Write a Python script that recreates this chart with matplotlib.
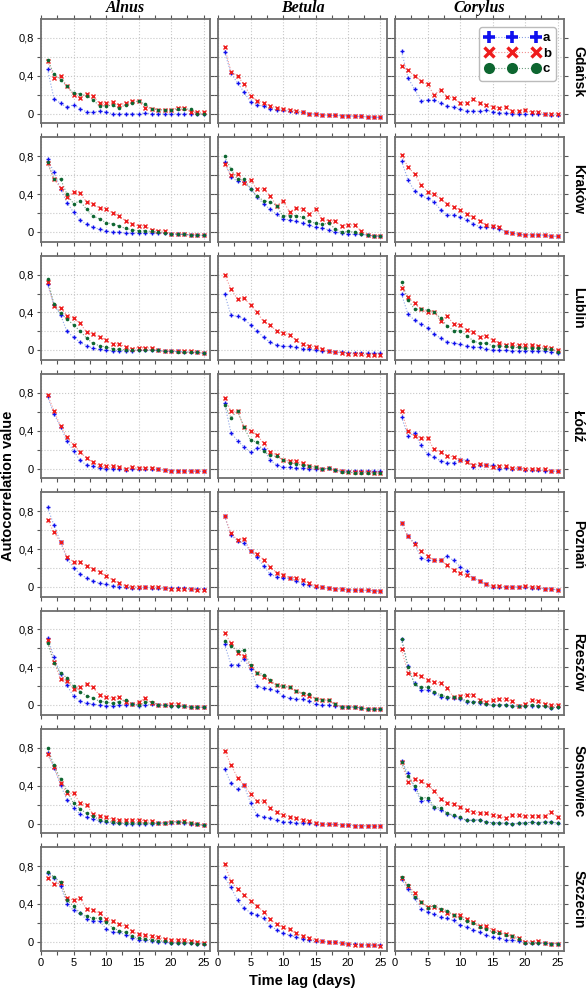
import matplotlib
matplotlib.use("Agg")
import matplotlib.pyplot as plt
from matplotlib.lines import Line2D
from matplotlib.ticker import MultipleLocator, FixedLocator, FuncFormatter

plt.rcParams['font.family'] = ['Liberation Sans', 'DejaVu Sans']

lags = list(range(1, 26))
taxa = ['Alnus', 'Betula', 'Corylus']
cities = ['Gdańsk', 'Kraków', 'Lublin', 'Łódź', 'Poznań', 'Rzeszów', 'Sosnowiec', 'Szczecin']
series_names = ['a', 'b', 'c']

# ---- Alnus ----
alnus_gdansk_a = [0.47, 0.16, 0.11, 0.07, 0.095, 0.056, 0.02, 0.014, 0.03, 0.02, 0.0, 0.0, 0.0, 0.0, 0.0, 0.01, 0.0, 0.0, 0.0, 0.0, 0.0, 0.0, 0.0, -0.005, -0.005]
alnus_gdansk_b = [0.56, 0.38, 0.40, 0.29, 0.20, 0.17, 0.21, 0.19, 0.11, 0.11, 0.12, 0.09, 0.115, 0.14, 0.13, 0.065, 0.055, 0.045, 0.04, 0.04, 0.065, 0.065, 0.02, 0.015, 0.015]
alnus_gdansk_c = [0.57, 0.42, 0.36, 0.29, 0.22, 0.21, 0.19, 0.15, 0.08, 0.085, 0.09, 0.06, 0.095, 0.115, 0.135, 0.10, 0.055, 0.045, 0.04, 0.04, 0.05, 0.05, 0.05, 0.0, 0.0]
alnus_krakow_a = [0.77, 0.63, 0.46, 0.31, 0.21, 0.125, 0.083, 0.05, 0.03, 0.015, 0.0, 0.0, -0.01, -0.01, -0.01, -0.01, -0.01, -0.01, -0.01, -0.02, -0.02, -0.025, -0.028, -0.03, -0.035]
alnus_krakow_b = [0.73, 0.56, 0.47, 0.37, 0.42, 0.41, 0.32, 0.30, 0.25, 0.24, 0.205, 0.17, 0.12, 0.087, 0.066, 0.066, 0.025, 0.014, 0.007, -0.02, -0.02, -0.025, -0.028, -0.03, -0.035]
alnus_krakow_c = [0.74, 0.56, 0.56, 0.40, 0.30, 0.33, 0.24, 0.17, 0.14, 0.10, 0.087, 0.063, 0.04, 0.025, 0.014, 0.014, 0.007, 0.0, -0.007, -0.02, -0.02, -0.025, -0.028, -0.03, -0.035]
alnus_lublin_a = [0.70, 0.48, 0.375, 0.20, 0.14, 0.087, 0.05, 0.024, 0.01, 0.0, -0.003, -0.003, -0.003, -0.003, 0.003, 0.0, 0.0, 0.0, -0.01, -0.01, -0.01, -0.015, -0.02, -0.02, -0.03]
alnus_lublin_b = [0.72, 0.47, 0.45, 0.365, 0.34, 0.285, 0.195, 0.17, 0.146, 0.11, 0.07, 0.066, 0.04, 0.02, 0.028, 0.028, 0.024, 0.0, -0.01, -0.01, -0.003, -0.003, -0.007, -0.02, -0.03]
alnus_lublin_c = [0.75, 0.49, 0.39, 0.33, 0.27, 0.205, 0.13, 0.073, 0.05, 0.035, 0.02, 0.01, 0.007, 0.003, 0.003, 0.003, 0.007, 0.0, -0.01, -0.01, -0.015, -0.017, -0.02, -0.02, -0.03]
alnus_lodz_a = [0.765, 0.575, 0.445, 0.29, 0.19, 0.087, 0.04, 0.024, 0.007, 0.0, 0.0, -0.007, -0.01, -0.003, -0.003, -0.007, -0.007, -0.007, -0.014, -0.02, -0.02, -0.022, -0.024, -0.026, -0.028]
alnus_lodz_b = [0.78, 0.61, 0.45, 0.33, 0.25, 0.18, 0.11, 0.07, 0.035, 0.028, 0.024, 0.02, 0.0, 0.014, 0.007, 0.01, 0.01, -0.007, -0.014, -0.02, -0.02, -0.022, -0.024, -0.026, -0.028]
alnus_poznan_a = [0.84, 0.65, 0.475, 0.30, 0.205, 0.14, 0.094, 0.066, 0.038, 0.028, 0.014, 0.0, 0.0, -0.007, -0.007, -0.003, -0.007, -0.007, -0.014, -0.014, -0.014, -0.014, -0.017, -0.017, -0.017]
alnus_poznan_b = [0.71, 0.575, 0.475, 0.32, 0.265, 0.26, 0.22, 0.195, 0.16, 0.115, 0.077, 0.038, 0.014, 0.003, 0.0, -0.003, -0.003, -0.003, -0.014, -0.017, -0.02, -0.024, -0.024, -0.028, -0.028]
alnus_rzeszow_a = [0.71, 0.51, 0.33, 0.21, 0.097, 0.045, 0.02, 0.014, 0.0, -0.003, -0.003, 0.003, 0.003, 0.014, -0.003, 0.007, 0.01, 0.007, 0.0, -0.003, -0.003, -0.01, -0.02, -0.02, -0.02]
alnus_rzeszow_b = [0.69, 0.46, 0.275, 0.26, 0.175, 0.19, 0.22, 0.19, 0.105, 0.085, 0.073, 0.085, 0.03, 0.014, 0.03, 0.077, 0.025, 0.007, 0.0, 0.014, 0.017, -0.01, -0.02, -0.02, -0.02]
alnus_rzeszow_c = [0.66, 0.45, 0.34, 0.29, 0.20, 0.145, 0.10, 0.08, 0.042, 0.035, 0.02, 0.04, 0.06, 0.014, 0.003, 0.03, 0.04, 0.007, 0.0, -0.003, -0.003, -0.01, -0.02, -0.02, -0.02]
alnus_sosnowiec_a = [0.75, 0.59, 0.41, 0.25, 0.167, 0.10, 0.066, 0.049, 0.028, 0.017, 0.003, 0.003, 0.0, 0.0, 0.0, 0.0, 0.0, 0.003, 0.007, 0.01, 0.014, 0.01, 0.0, -0.007, -0.017]
alnus_sosnowiec_b = [0.73, 0.60, 0.43, 0.32, 0.32, 0.22, 0.20, 0.10, 0.077, 0.07, 0.045, 0.035, 0.035, 0.035, 0.038, 0.031, 0.024, 0.007, 0.01, 0.02, 0.02, 0.024, 0.003, -0.007, -0.017]
alnus_sosnowiec_c = [0.80, 0.615, 0.47, 0.345, 0.215, 0.157, 0.108, 0.077, 0.042, 0.024, 0.014, 0.007, 0.007, 0.007, 0.007, 0.007, 0.007, 0.007, 0.01, 0.02, 0.02, 0.017, 0.003, -0.007, -0.017]
alnus_szczecin_a = [0.73, 0.67, 0.59, 0.40, 0.335, 0.30, 0.24, 0.225, 0.22, 0.14, 0.10, 0.10, 0.077, 0.045, 0.024, 0.017, 0.014, 0.003, -0.003, -0.01, -0.01, -0.01, -0.01, -0.017, -0.02]
alnus_szczecin_b = [0.67, 0.615, 0.62, 0.465, 0.44, 0.46, 0.35, 0.34, 0.30, 0.245, 0.22, 0.185, 0.165, 0.11, 0.083, 0.073, 0.066, 0.049, 0.035, 0.02, 0.02, 0.017, 0.007, -0.003, -0.01]
alnus_szczecin_c = [0.74, 0.685, 0.63, 0.445, 0.375, 0.31, 0.27, 0.25, 0.25, 0.205, 0.15, 0.12, 0.10, 0.06, 0.038, 0.028, 0.024, 0.014, 0.007, -0.01, -0.01, -0.01, -0.01, -0.017, -0.02]

# ---- Betula ----
betula_gdansk_a = [0.655, 0.43, 0.325, 0.23, 0.125, 0.097, 0.08, 0.052, 0.045, 0.035, 0.028, 0.024, 0.014, 0.003, 0.0, -0.01, -0.014, -0.017, -0.02, -0.02, -0.024, -0.028, -0.031, -0.035, -0.038]
betula_gdansk_b = [0.705, 0.445, 0.40, 0.31, 0.19, 0.14, 0.115, 0.087, 0.063, 0.049, 0.042, 0.028, 0.017, 0.003, 0.0, -0.01, -0.014, -0.017, -0.02, -0.02, -0.024, -0.028, -0.031, -0.035, -0.038]
betula_krakow_a = [0.74, 0.585, 0.535, 0.53, 0.46, 0.37, 0.30, 0.24, 0.19, 0.14, 0.13, 0.115, 0.094, 0.07, 0.052, 0.045, 0.024, 0.0, -0.01, -0.02, -0.024, -0.024, -0.03, -0.04, -0.04]
betula_krakow_b = [0.72, 0.60, 0.61, 0.52, 0.55, 0.45, 0.455, 0.385, 0.28, 0.33, 0.215, 0.25, 0.245, 0.19, 0.245, 0.14, 0.12, 0.115, 0.066, 0.08, 0.073, 0.014, -0.03, -0.04, -0.04]
betula_krakow_c = [0.80, 0.665, 0.555, 0.555, 0.46, 0.38, 0.33, 0.32, 0.28, 0.167, 0.175, 0.175, 0.157, 0.115, 0.094, 0.083, 0.094, 0.038, 0.0, 0.007, 0.0, -0.024, -0.03, -0.04, -0.04]
betula_lublin_a = [0.60, 0.37, 0.36, 0.33, 0.27, 0.205, 0.14, 0.087, 0.056, 0.042, 0.042, 0.031, 0.02, 0.01, 0.0, -0.007, -0.01, -0.017, -0.02, -0.024, -0.024, -0.028, -0.028, -0.028, -0.028]
betula_lublin_b = [0.80, 0.65, 0.54, 0.55, 0.48, 0.40, 0.305, 0.27, 0.205, 0.185, 0.165, 0.11, 0.063, 0.049, 0.038, 0.014, -0.01, -0.017, -0.024, -0.035, -0.038, -0.042, -0.05, -0.052, -0.052]
betula_lodz_a = [0.69, 0.38, 0.295, 0.23, 0.175, 0.22, 0.21, 0.094, 0.038, 0.017, 0.014, 0.007, 0.007, 0.0, -0.003, 0.0, 0.003, -0.014, -0.02, -0.02, -0.02, -0.024, -0.024, -0.024, -0.028]
betula_lodz_b = [0.75, 0.605, 0.605, 0.44, 0.40, 0.355, 0.27, 0.18, 0.146, 0.094, 0.08, 0.08, 0.056, 0.031, 0.017, 0.0, 0.003, -0.014, -0.028, -0.031, -0.035, -0.035, -0.038, -0.042, -0.045]
betula_lodz_c = [0.67, 0.54, 0.61, 0.44, 0.30, 0.28, 0.185, 0.14, 0.13, 0.094, 0.063, 0.052, 0.035, 0.024, 0.014, 0.0, 0.003, -0.014, -0.035, -0.038, -0.042, -0.042, -0.045, -0.045, -0.048]
betula_poznan_a = [0.75, 0.545, 0.49, 0.46, 0.38, 0.32, 0.22, 0.14, 0.104, 0.10, 0.09, 0.066, 0.035, 0.02, 0.003, -0.003, -0.01, -0.017, -0.02, -0.028, -0.031, -0.035, -0.035, -0.038, -0.045]
betula_poznan_b = [0.75, 0.565, 0.495, 0.51, 0.38, 0.35, 0.29, 0.215, 0.153, 0.13, 0.10, 0.097, 0.073, 0.042, 0.007, -0.003, -0.01, -0.017, -0.02, -0.028, -0.031, -0.035, -0.035, -0.038, -0.045]
betula_rzeszow_a = [0.645, 0.43, 0.43, 0.49, 0.385, 0.20, 0.18, 0.17, 0.153, 0.094, 0.077, 0.07, 0.063, 0.049, 0.01, 0.003, 0.003, -0.01, -0.017, -0.017, -0.017, -0.028, -0.038, -0.042, -0.042]
betula_rzeszow_b = [0.76, 0.66, 0.555, 0.515, 0.41, 0.34, 0.30, 0.26, 0.21, 0.20, 0.19, 0.15, 0.12, 0.097, 0.07, 0.06, 0.052, 0.017, -0.017, -0.017, -0.017, -0.028, -0.038, -0.042, -0.042]
betula_rzeszow_c = [0.68, 0.63, 0.57, 0.58, 0.42, 0.345, 0.325, 0.27, 0.21, 0.20, 0.19, 0.15, 0.13, 0.115, 0.07, 0.06, 0.052, 0.01, -0.017, -0.017, -0.017, -0.028, -0.038, -0.042, -0.042]
betula_sosnowiec_a = [0.58, 0.425, 0.36, 0.405, 0.22, 0.09, 0.07, 0.06, 0.038, 0.02, 0.014, 0.007, 0.007, 0.003, -0.003, 0.0, -0.007, -0.007, -0.014, -0.017, -0.02, -0.02, -0.024, -0.024, -0.028]
betula_sosnowiec_b = [0.77, 0.62, 0.485, 0.405, 0.315, 0.235, 0.235, 0.165, 0.118, 0.094, 0.073, 0.06, 0.038, 0.024, 0.01, 0.0, -0.007, -0.007, -0.014, -0.017, -0.02, -0.02, -0.024, -0.024, -0.028]
betula_szczecin_a = [0.685, 0.575, 0.44, 0.355, 0.31, 0.285, 0.25, 0.17, 0.13, 0.09, 0.073, 0.049, 0.031, 0.017, 0.014, 0.007, 0.0, -0.003, -0.014, -0.024, -0.024, -0.028, -0.028, -0.028, -0.031]
betula_szczecin_b = [0.825, 0.64, 0.56, 0.50, 0.43, 0.38, 0.32, 0.24, 0.185, 0.153, 0.132, 0.09, 0.063, 0.042, 0.024, 0.007, 0.0, -0.003, -0.014, -0.024, -0.028, -0.031, -0.035, -0.035, -0.045]

# ---- Corylus ----
corylus_gdansk_a = [0.66, 0.38, 0.26, 0.14, 0.143, 0.143, 0.118, 0.08, 0.073, 0.049, 0.028, 0.028, 0.028, 0.035, 0.024, 0.01, 0.01, 0.0, -0.007, -0.007, -0.007, 0.0, -0.007, -0.014, -0.017]
corylus_gdansk_b = [0.50, 0.46, 0.40, 0.35, 0.31, 0.20, 0.255, 0.18, 0.167, 0.115, 0.115, 0.153, 0.11, 0.094, 0.077, 0.06, 0.073, 0.028, 0.028, 0.035, 0.02, 0.02, 0.003, 0.003, -0.003]
corylus_krakow_a = [0.75, 0.55, 0.435, 0.39, 0.355, 0.32, 0.237, 0.18, 0.18, 0.16, 0.132, 0.09, 0.056, 0.049, 0.049, 0.035, 0.003, -0.007, -0.024, -0.028, -0.028, -0.028, -0.031, -0.045, -0.042]
corylus_krakow_b = [0.81, 0.69, 0.61, 0.50, 0.425, 0.40, 0.35, 0.30, 0.27, 0.237, 0.19, 0.157, 0.12, 0.073, 0.063, 0.056, 0.003, -0.007, -0.024, -0.028, -0.028, -0.028, -0.031, -0.045, -0.042]
corylus_lublin_a = [0.595, 0.38, 0.32, 0.275, 0.24, 0.17, 0.13, 0.09, 0.077, 0.066, 0.045, 0.038, 0.031, 0.017, 0.007, 0.0, 0.0, -0.003, -0.003, -0.003, -0.003, -0.01, -0.003, -0.02, -0.028]
corylus_lublin_b = [0.655, 0.56, 0.495, 0.435, 0.40, 0.41, 0.31, 0.365, 0.28, 0.27, 0.215, 0.195, 0.143, 0.157, 0.108, 0.083, 0.06, 0.063, 0.052, 0.06, 0.052, 0.045, 0.031, 0.024, 0.0]
corylus_lublin_c = [0.72, 0.535, 0.435, 0.435, 0.425, 0.41, 0.34, 0.26, 0.21, 0.21, 0.157, 0.104, 0.073, 0.077, 0.049, 0.045, 0.042, 0.031, 0.031, 0.024, 0.024, 0.024, 0.02, 0.014, -0.02]
corylus_lodz_a = [0.546, 0.344, 0.38, 0.247, 0.153, 0.125, 0.083, 0.063, 0.063, 0.094, 0.094, 0.02, 0.038, 0.038, 0.035, 0.0, 0.003, 0.0, 0.007, -0.014, -0.017, -0.017, -0.02, -0.024, -0.028]
corylus_lodz_b = [0.605, 0.393, 0.348, 0.327, 0.323, 0.205, 0.18, 0.136, 0.125, 0.094, 0.073, 0.042, 0.049, 0.038, 0.017, 0.028, 0.031, 0.007, 0.007, 0.0, -0.007, -0.007, -0.007, -0.024, -0.028]
corylus_poznan_a = [0.68, 0.54, 0.46, 0.31, 0.28, 0.28, 0.28, 0.327, 0.28, 0.216, 0.17, 0.097, 0.066, 0.028, 0.0, 0.0, -0.003, 0.0, 0.0, -0.003, -0.007, -0.01, -0.017, -0.02, -0.03]
corylus_poznan_b = [0.68, 0.535, 0.45, 0.375, 0.325, 0.28, 0.28, 0.233, 0.177, 0.143, 0.122, 0.097, 0.066, 0.028, 0.007, 0.01, 0.0, 0.0, 0.0, 0.007, 0.0, -0.003, -0.017, -0.02, -0.03]
corylus_rzeszow_a = [0.70, 0.41, 0.233, 0.163, 0.163, 0.125, 0.087, 0.08, 0.073, 0.063, 0.035, 0.035, 0.028, 0.01, 0.0, 0.007, 0.003, -0.003, -0.01, -0.003, -0.003, -0.003, -0.007, -0.024, -0.02]
corylus_rzeszow_b = [0.59, 0.345, 0.327, 0.306, 0.264, 0.25, 0.233, 0.18, 0.09, 0.094, 0.11, 0.11, 0.052, 0.038, 0.052, 0.07, 0.063, 0.045, -0.007, 0.01, 0.056, 0.049, 0.017, 0.003, 0.003]
corylus_rzeszow_c = [0.70, 0.405, 0.22, 0.19, 0.19, 0.143, 0.11, 0.087, 0.083, 0.08, 0.045, 0.038, 0.038, 0.014, 0.0, 0.007, 0.007, -0.003, -0.01, -0.003, 0.003, -0.003, -0.007, -0.024, -0.02]
corylus_sosnowiec_a = [0.66, 0.53, 0.37, 0.24, 0.245, 0.164, 0.146, 0.10, 0.083, 0.06, 0.035, 0.035, 0.042, 0.017, 0.01, 0.01, 0.003, 0.0, 0.003, 0.01, 0.014, 0.01, 0.017, 0.017, 0.007]
corylus_sosnowiec_b = [0.645, 0.44, 0.475, 0.45, 0.41, 0.345, 0.26, 0.22, 0.21, 0.177, 0.146, 0.125, 0.108, 0.108, 0.09, 0.077, 0.06, 0.09, 0.087, 0.08, 0.083, 0.077, 0.077, 0.125, 0.07]
corylus_sosnowiec_c = [0.645, 0.50, 0.40, 0.27, 0.275, 0.18, 0.164, 0.11, 0.09, 0.066, 0.035, 0.035, 0.042, 0.017, 0.01, 0.01, 0.003, 0.0, 0.003, 0.01, 0.014, 0.01, 0.017, 0.017, 0.007]
corylus_szczecin_a = [0.66, 0.555, 0.46, 0.35, 0.32, 0.29, 0.26, 0.247, 0.226, 0.177, 0.16, 0.13, 0.104, 0.07, 0.052, 0.042, 0.024, 0.017, 0.01, -0.01, -0.007, -0.007, -0.014, -0.017, -0.017]
corylus_szczecin_b = [0.67, 0.595, 0.52, 0.425, 0.37, 0.37, 0.34, 0.31, 0.285, 0.285, 0.243, 0.215, 0.17, 0.163, 0.13, 0.108, 0.083, 0.066, 0.045, 0.0, -0.003, 0.01, -0.014, -0.017, -0.017]
corylus_szczecin_c = [0.68, 0.60, 0.475, 0.425, 0.36, 0.38, 0.35, 0.33, 0.28, 0.257, 0.22, 0.20, 0.16, 0.132, 0.108, 0.094, 0.077, 0.06, 0.031, -0.01, -0.014, -0.007, -0.014, -0.017, -0.017]

city_keys = ['gdansk', 'krakow', 'lublin', 'lodz', 'poznan', 'rzeszow', 'sosnowiec', 'szczecin']

marker_col = {'a': '#1010ee', 'b': '#ee1c1c', 'c': '#0d6630'}
line_col = {'a': '#8da4e6', 'b': '#f29090', 'c': '#6f9f80'}
marker_sty = {'a': dict(marker='+', ms=3.0, mew=1.0),
              'b': dict(marker='x', ms=2.2, mew=1.0),
              'c': dict(marker='o', ms=2.6, mew=0)}

W, H = 586, 992
fig = plt.figure(figsize=(W / 100, H / 100), dpi=100)

col_left = [41, 218, 395]
ax_w = 169
row_top0, row_pitch, ax_h = 19, 118.3, 104.3

grid_kw = dict(color='#c8c8c8', linestyle=':', linewidth=0.8)

for r, ck in enumerate(city_keys):
    for c, taxon in enumerate(taxa):
        top = row_top0 + r * row_pitch
        ax = fig.add_axes([col_left[c] / W, 1 - (top + ax_h) / H, ax_w / W, ax_h / H])
        for s in series_names:
            vals = globals().get(f'{taxon.lower()}_{ck}_{s}')
            if vals is None:
                continue
            ax.plot(lags, vals, linestyle=':', linewidth=0.8, color=line_col[s], zorder=2)
            ax.plot(lags, vals, linestyle='none', color=marker_col[s],
                    mec=marker_col[s], mfc=marker_col[s], zorder=3, **marker_sty[s])
        ax.set_xlim(0, 26)
        ax.set_ylim(-0.1, 1.0)
        ax.xaxis.set_major_locator(MultipleLocator(5))
        ax.xaxis.set_minor_locator(MultipleLocator(2.5))
        ax.yaxis.set_major_locator(FixedLocator([0, 0.4, 0.8]))
        ax.yaxis.set_minor_locator(FixedLocator([0.2, 0.6]))
        ax.yaxis.set_major_formatter(FuncFormatter(lambda v, p: '0' if abs(v) < 1e-9 else f'{v:.1f}'.replace('.', ',')))
        ax.grid(True, which='major', **grid_kw)
        ax.grid(True, which='minor', axis='y', **grid_kw)
        ax.set_axisbelow(True)
        ax.tick_params(which='both', direction='out', length=3, width=0.8, color='#555555',
                       top=True, right=True, labelsize=8, pad=2)
        ax.tick_params(labelbottom=(r == len(city_keys) - 1), labelleft=(c == 0))
        for sp in ax.spines.values():
            sp.set_color('#6e6e6e')
            sp.set_linewidth(1.3)
        if r == 0:
            ax.set_title(taxon, fontsize=11.5, fontweight='bold', fontstyle='italic',
                         family='Liberation Serif', pad=5)
        if c == 2:
            ax.text(1.085, 0.5, cities[r], transform=ax.transAxes, rotation=270,
                    ha='center', va='center', fontsize=10, fontweight='bold')
        if r == 0 and c == 2:
            handles = [
                Line2D([], [], linestyle=':', linewidth=0.8, color=line_col['a'], marker='+',
                       ms=9, mew=2.6, mec=marker_col['a']),
                Line2D([], [], linestyle=':', linewidth=0.8, color=line_col['b'], marker='x',
                       ms=7.5, mew=2.4, mec=marker_col['b']),
                Line2D([], [], linestyle=':', linewidth=0.8, color=line_col['c'], marker='o',
                       ms=8, mew=0, mfc=marker_col['c']),
            ]
            leg = ax.legend(handles, series_names, loc='upper right', numpoints=3,
                            handlelength=4.2, handletextpad=0.2, labelspacing=0.25,
                            borderpad=0.4, borderaxespad=0.6, fancybox=True,
                            framealpha=1, edgecolor='#bbbbbb',
                            prop={'weight': 'bold', 'size': 9.5})
            leg.get_frame().set_linewidth(1.0)

fig.text(8 / W, 1 - 486 / H, 'Autocorrelation value', rotation=90, ha='center', va='center',
         fontsize=10.5, fontweight='bold')
fig.text(302 / W, 1 - 981 / H, 'Time lag (days)', ha='center', va='center',
         fontsize=10.5, fontweight='bold')

fig.savefig('out.png', dpi=100)
